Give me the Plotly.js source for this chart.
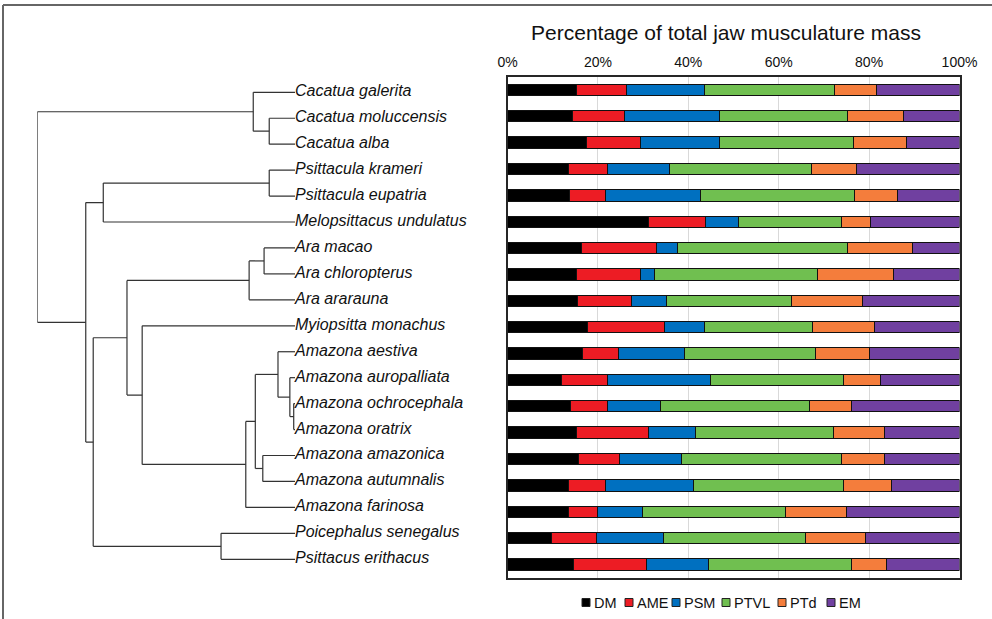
<!DOCTYPE html>
<html>
<head>
<meta charset="utf-8">
<script src="https://cdn.plot.ly/plotly-3.0.1.min.js"></script>
<style>
  html, body { margin: 0; padding: 0; background: #fff; }
  #chart { width: 992px; height: 619px; }
</style>
</head>
<body>
<div id="chart"></div>
<script>
// ---------------- DATA ----------------
const species = [
  "Cacatua galerita", "Cacatua moluccensis", "Cacatua alba",
  "Psittacula krameri", "Psittacula eupatria", "Melopsittacus undulatus",
  "Ara macao", "Ara chloropterus", "Ara ararauna", "Myiopsitta monachus",
  "Amazona aestiva", "Amazona auropalliata", "Amazona ochrocephala",
  "Amazona oratrix", "Amazona amazonica", "Amazona autumnalis",
  "Amazona farinosa", "Poicephalus senegalus", "Psittacus erithacus"
];
const seriesNames = ["DM", "AME", "PSM", "PTVL", "PTd", "EM"];
const DM   = [15.3, 14.3, 17.4, 13.5, 13.8, 31.1, 16.3, 15.2, 15.5, 17.8, 16.6, 12.0, 14.0, 15.2, 15.8, 13.6, 13.5,  9.8, 14.7];
const AME  = [11.1, 11.5, 12.1,  8.7,  7.8, 12.7, 16.6, 14.2, 12.0, 17.0,  8.0, 10.2,  8.2, 16.0,  9.0,  8.0,  6.4,  9.8, 16.1];
const PSM  = [17.2, 21.2, 17.3, 13.6, 21.0,  7.3,  4.6,  3.2,  7.6,  8.7, 14.6, 22.7, 11.6, 10.4, 13.8, 19.6, 10.0, 15.0, 13.7];
const PTVL = [28.8, 28.3, 29.7, 31.5, 34.1, 22.9, 37.7, 35.9, 27.8, 23.9, 29.0, 29.5, 33.0, 30.6, 35.3, 33.1, 31.7, 31.4, 31.6];
const PTd  = [ 9.3, 12.3, 11.8, 10.0,  9.5,  6.2, 14.4, 16.9, 15.6, 13.8, 11.9,  8.2,  9.2, 11.1,  9.5, 10.7, 13.4, 13.3,  7.8];
const EM   = [18.3, 12.4, 11.7, 22.7, 13.8, 19.8, 10.4, 14.6, 21.5, 18.8, 19.9, 17.4, 24.0, 16.7, 16.6, 15.0, 25.0, 20.7, 16.1];
const seriesValues = [DM, AME, PSM, PTVL, PTd, EM];
const seriesColors = ["#000000", "#ED1C24", "#0070C0", "#70BF50", "#F47D3C", "#7040A0"];
const tickVals = [0, 20, 40, 60, 80, 100];
const tickText = ["0%", "20%", "40%", "60%", "80%", "100%"];

// Phylogeny: internal node = {d: relative depth (root 0, tips 1), c: children}; leaves = species index
function N(d, ...c) { return { d: d, c: c }; }
const tree =
  N(0,
    N(0.838, 0, N(0.900, 1, 2)),
    N(0.188,
      N(0.256, N(0.900, 3, 4), 5),
      N(0.217,
        N(0.348,
          N(0.822, N(0.880, 6, 7), 8),
          N(0.407, 9,
            N(0.809,
              N(0.846,
                N(0.934, 10, N(0.980, 11, N(0.995, 12, 13))),
                N(0.875, 14, 15)),
              16))),
        N(0.713, 17, 18))));

// ---------------- TREE LINES ----------------
const tx = [], ty = [];
function walk(node) {
  if (typeof node === "number") return { y: node, d: 1 };
  const kids = node.c.map(walk);
  const y0 = kids[0].y, y1 = kids[kids.length - 1].y;
  tx.push(node.d, node.d, null); ty.push(y0, y1, null);
  kids.forEach(k => { tx.push(node.d, k.d, null); ty.push(k.y, k.y, null); });
  return { y: (y0 + y1) / 2, d: node.d };
}
walk(tree);

const FONT = "Arial, 'Liberation Sans', sans-serif";
const traces = [];
seriesNames.forEach((nm, i) => {
  traces.push({
    type: "bar", orientation: "h", name: nm,
    x: seriesValues[i], y: species,
    marker: { color: seriesColors[i], line: { color: "#111", width: 1 } },
    xaxis: "x", yaxis: "y", showlegend: false, hoverinfo: "x+name"
  });
});
traces.push({
  type: "scatter", mode: "lines", x: tx, y: ty,
  line: { color: "#333", width: 1.2 }, xaxis: "x2", yaxis: "y2",
  showlegend: false, hoverinfo: "skip", cliponaxis: false
});
traces.push({
  type: "scatter", mode: "text",
  x: species.map(() => 1), y: species.map((s, i) => i),
  text: species.map(s => "<i>" + s + "</i>"),
  textposition: "middle right",
  textfont: { family: FONT, size: 16, color: "#111" },
  xaxis: "x2", yaxis: "y2", showlegend: false, hoverinfo: "skip", cliponaxis: false
});

// ---------------- LAYOUT ----------------
const W = 992, H = 619;
const px = v => v / W, py = v => 1 - v / H;
const shapes = [
  { type: "line", xref: "paper", yref: "paper", x0: px(3), x1: px(1000), y0: py(5), y1: py(5), line: { color: "#666", width: 2 } },
  { type: "line", xref: "paper", yref: "paper", x0: px(3), x1: px(3), y0: py(5), y1: py(630), line: { color: "#666", width: 2 } }
];
const annotations = [];
const legendX = [582, 625, 672, 722, 778, 827];
seriesNames.forEach((nm, i) => {
  shapes.push({ type: "rect", xref: "paper", yref: "paper",
    x0: px(legendX[i]), x1: px(legendX[i] + 8), y0: py(606.5), y1: py(598.5),
    fillcolor: seriesColors[i], line: { color: "#222", width: 1 } });
  annotations.push({ xref: "paper", yref: "paper", x: px(legendX[i] + 10), y: py(602.5),
    xanchor: "left", yanchor: "middle", text: nm, showarrow: false,
    font: { family: FONT, size: 14.5, color: "#111" } });
});

const layout = {
  width: W, height: H, autosize: false,
  margin: { l: 0, r: 0, t: 0, b: 0 },
  paper_bgcolor: "#fff", plot_bgcolor: "#fff",
  barmode: "stack", bargap: 0.57,
  font: { family: FONT, color: "#111" },
  title: {
    text: "Percentage of total jaw musculature mass",
    x: px(726), xref: "paper", xanchor: "center",
    y: py(33), yref: "container", yanchor: "middle",
    font: { family: FONT, size: 21, color: "#111" }
  },
  xaxis: {
    domain: [px(507.5), px(959.5)], range: [0, 100], side: "top",
    tickmode: "array", tickvals: tickVals, ticktext: tickText, ticks: "",
    ticklabelstandoff: 2,
    tickfont: { family: FONT, size: 14, color: "#111" },
    showgrid: true, gridcolor: "#D9D9D9", gridwidth: 1, zeroline: false,
    showline: true, mirror: true, linecolor: "#262626", linewidth: 2,
    fixedrange: true
  },
  yaxis: {
    domain: [py(577.7), py(76.7)], type: "category",
    categoryorder: "array", categoryarray: species,
    range: [18.5, -0.5], showticklabels: false, ticks: "",
    showgrid: false, zeroline: false,
    showline: true, mirror: true, linecolor: "#262626", linewidth: 2,
    fixedrange: true
  },
  xaxis2: { domain: [px(37.3), px(295)], range: [0, 1], visible: false, anchor: "y2", fixedrange: true },
  yaxis2: { domain: [py(577.7), py(76.7)], range: [18.71, -0.601], visible: false, anchor: "x2", fixedrange: true },
  shapes: shapes,
  annotations: annotations,
  showlegend: false
};

Plotly.newPlot("chart", traces, layout, { displayModeBar: false, staticPlot: true });
</script>
</body>
</html>
